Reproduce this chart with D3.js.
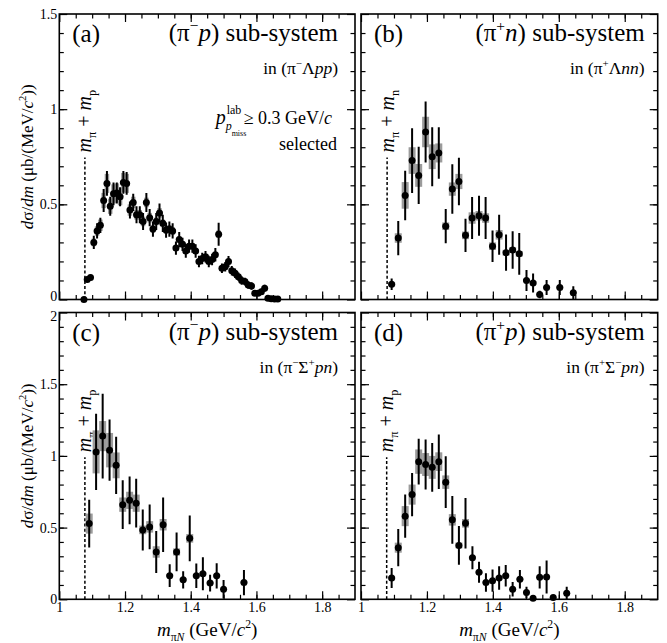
<!DOCTYPE html>
<html>
<head>
<meta charset="utf-8">
<script src="https://cdn.jsdelivr.net/npm/d3@7"></script>
<style>
  body { margin: 0; background: #fff; }
  text { font-family: "Liberation Serif", "DejaVu Serif", serif; fill: #000; }
</style>
</head>
<body>
<div id="chart"></div>
<script>
// ---- data ----
// (a) pi- p in (pi- Lambda p p), 10 MeV bins
var aX = [1.075,1.085,1.095,1.105,1.115,1.125,1.135,1.145,1.155,1.165,1.175,1.185,1.195,1.205,1.215,1.225,
          1.235,1.245,1.255,1.265,1.275,1.285,1.295,1.305,1.315,1.325,1.335,1.345,1.355,1.365,1.375,1.385,
          1.395,1.405,1.415,1.425,1.435,1.445,1.455,1.465,1.475,1.485,1.495,1.505,1.515,1.525,1.535,1.545,
          1.555,1.565,1.575,1.585,1.595,1.605,1.615,1.625,1.635,1.645,1.655,1.665];
var aY = [0.000,0.105,0.115,0.300,0.360,0.390,0.520,0.610,0.490,0.555,0.560,0.540,0.615,0.610,0.470,0.510,
          0.445,0.445,0.410,0.510,0.430,0.370,0.410,0.455,0.400,0.365,0.370,0.360,0.270,0.315,0.290,0.255,
          0.280,0.280,0.255,0.200,0.215,0.225,0.200,0.210,0.235,0.343,0.164,0.172,0.199,0.151,0.138,0.120,
          0.100,0.094,0.076,0.071,0.033,0.033,0.041,0.059,0.006,0.004,0.002,0.002];
var aStat = [0.004,0.015,0.015,0.035,0.040,0.040,0.060,0.065,0.050,0.060,0.055,0.050,0.060,0.060,0.045,0.045,
             0.045,0.045,0.045,0.050,0.045,0.040,0.045,0.050,0.045,0.040,0.040,0.040,0.035,0.040,0.035,0.035,
             0.035,0.035,0.035,0.030,0.030,0.030,0.030,0.030,0.035,0.060,0.025,0.025,0.030,0.025,0.025,0.022,
             0.022,0.020,0.020,0.020,0.015,0.015,0.015,0.018,0.006,0.004,0.003,0.003];
var aSys = [0.002,0.010,0.010,0.020,0.025,0.030,0.040,0.050,0.040,0.050,0.050,0.045,0.050,0.050,0.030,0.030,
            0.025,0.025,0.025,0.025,0.025,0.020,0.020,0.025,0.020,0.020,0.020,0.020,0.015,0.015,0.015,0.015,
            0.015,0.015,0.015,0.012,0.012,0.012,0.012,0.012,0.012,0.020,0.010,0.010,0.010,0.010,0.010,0.010,
            0.008,0.008,0.008,0.008,0.005,0.005,0.005,0.005,0.002,0.002,0.002,0.002];

// (b) pi+ n in (pi+ Lambda n n), 20 MeV bins
var bX = [1.093,1.113,1.134,1.155,1.175,1.196,1.216,1.236,1.257,1.277,1.297,1.317,1.337,
          1.358,1.378,1.399,1.419,1.440,1.460,1.480,1.502,1.522,1.542,1.563,1.603,1.644];
var bY = [0.080,0.323,0.547,0.730,0.652,0.880,0.750,0.770,0.385,0.580,0.620,0.337,0.428,
          0.440,0.428,0.280,0.340,0.246,0.260,0.240,0.100,0.087,0.026,0.063,0.063,0.035];
var bStat = [0.030,0.090,0.130,0.170,0.150,0.160,0.155,0.135,0.090,0.130,0.125,0.087,0.110,
             0.105,0.110,0.083,0.105,0.095,0.098,0.110,0.055,0.050,0.020,0.040,0.040,0.035];
var bSys = [0.010,0.025,0.070,0.070,0.060,0.080,0.065,0.050,0.020,0.035,0.040,0.020,0.030,
            0.025,0.025,0.020,0.025,0.015,0.015,0.015,0.008,0.008,0.004,0.006,0.006,0.004];

// (c) pi- p in (pi- Sigma+ p n)
var cX = [1.091,1.112,1.132,1.153,1.173,1.193,1.214,1.234,1.254,1.275,1.295,1.316,1.336,
          1.357,1.377,1.397,1.417,1.437,1.459,1.479,1.500,1.562];
var cY = [0.528,1.028,1.138,1.040,0.934,0.660,0.690,0.670,0.484,0.505,0.330,0.520,0.165,
          0.330,0.136,0.425,0.164,0.178,0.113,0.164,0.070,0.117];
var cStat = [0.167,0.266,0.295,0.213,0.200,0.170,0.167,0.170,0.143,0.156,0.147,0.190,0.080,
             0.135,0.060,0.160,0.085,0.115,0.058,0.088,0.065,0.088];
var cSys = [0.070,0.150,0.105,0.120,0.090,0.050,0.060,0.060,0.030,0.040,0.040,0.040,0.010,
            0.025,0.010,0.030,0.010,0.010,0.008,0.010,0.005,0.008];

// (d) pi+ p in (pi+ Sigma- p n)
var dX = [1.093,1.113,1.134,1.155,1.175,1.196,1.216,1.236,1.257,1.277,1.297,1.317,1.338,
          1.358,1.379,1.399,1.419,1.439,1.460,1.482,1.502,1.522,1.542,1.563,1.583,1.624];
var dY = [0.148,0.360,0.580,0.730,0.960,0.940,0.920,0.960,0.817,0.554,0.376,0.530,0.290,
          0.188,0.117,0.130,0.148,0.164,0.070,0.140,0.047,0.007,0.153,0.155,0.012,0.042];
var dStat = [0.070,0.130,0.150,0.150,0.160,0.175,0.170,0.190,0.180,0.167,0.135,0.176,0.080,
             0.073,0.065,0.078,0.082,0.075,0.050,0.065,0.040,0.010,0.077,0.115,0.012,0.045];
var dSys = [0.010,0.035,0.070,0.070,0.085,0.080,0.080,0.065,0.047,0.040,0.020,0.030,0.010,
            0.010,0.008,0.008,0.010,0.010,0.005,0.008,0.004,0.002,0.008,0.008,0.002,0.004];

// thresholds m_pi + m_N (GeV/c^2)
var thrP = 1.0779, thrN = 1.0792;

var xTicks = [1, 1.2, 1.4, 1.6, 1.8];
var xTickLabels = ['1', '1.2', '1.4', '1.6', '1.8'];
var yTicksTop = [0, 0.5, 1, 1.5];
var yTickLabelsTop = ['0', '0.5', '1', '1.5'];
var yTicksBot = [0, 0.5, 1, 1.5, 2];
var yTickLabelsBot = ['0', '0.5', '1', '1.5', '2'];

// ---- layout ----
var W = 667, H = 643;
var colX = [[59.3, 355], [361, 657.7]];
var rowY = [[14, 299.5], [312.5, 599.3]];
var yMax = [1.5, 2];

var svg = d3.select('#chart').append('svg')
    .attr('width', W)
    .attr('height', H);

// text with italic / sub / sup pieces
function rich(t, parts, size) {
    var shift = 0;
    parts.forEach(function(p) {
        var s = p[0], k = p[1] || '';
        var ts = t.append('tspan').text(s);
        var target = 0, fs = size;
        if (k.indexOf('sup') >= 0) { target = -0.4 * size; fs = size * 0.62; }
        if (k.indexOf('sub') >= 0) { target = 0.25 * size; fs = size * 0.62; }
        if (k.charAt(0) == 'i') ts.attr('font-style', 'italic');
        ts.attr('font-size', fs).attr('dy', target - shift);
        shift = target;
    });
    return t;
}

var panels = [
    {name: '(a)', col: 0, row: 0, x: aX, y: aY, stat: aStat, sys: aSys, boxW: 4.5, thr: thrP, nuc: 'p',
     title: [['(π'], ['−', 'sup'], ['p', 'i'], [') sub-system']],
     sub: [['in (π'], ['−', 'sup'], ['Λ'], ['pp', 'i'], [')']]},
    {name: '(b)', col: 1, row: 0, x: bX, y: bY, stat: bStat, sys: bSys, boxW: 7, thr: thrN, nuc: 'n',
     title: [['(π'], ['+', 'sup'], ['n', 'i'], [') sub-system']],
     sub: [['in (π'], ['+', 'sup'], ['Λ'], ['nn', 'i'], [')']]},
    {name: '(c)', col: 0, row: 1, x: cX, y: cY, stat: cStat, sys: cSys, boxW: 7, thr: thrP, nuc: 'p',
     title: [['(π'], ['−', 'sup'], ['p', 'i'], [') sub-system']],
     sub: [['in (π'], ['−', 'sup'], ['Σ'], ['+', 'sup'], ['pn', 'i'], [')']]},
    {name: '(d)', col: 1, row: 1, x: dX, y: dY, stat: dStat, sys: dSys, boxW: 7, thr: thrP, nuc: 'p',
     title: [['(π'], ['+', 'sup'], ['p', 'i'], [') sub-system']],
     sub: [['in (π'], ['+', 'sup'], ['Σ'], ['−', 'sup'], ['pn', 'i'], [')']]}
];

panels.forEach(function(p, pi) {
    var x0 = colX[p.col][0], x1 = colX[p.col][1];
    var y0 = rowY[p.row][1], y1 = rowY[p.row][0];
    var x = d3.scaleLinear().domain([1, 1.9]).range([x0, x1]);
    var y = d3.scaleLinear().domain([0, yMax[p.row]]).range([y0, y1]);
    var g = svg.append('g');

    var clipId = 'clip' + pi;
    svg.append('clipPath').attr('id', clipId)
        .append('rect').attr('x', x0).attr('y', y1).attr('width', x1 - x0).attr('height', y0 - y1);

    var xMinor = d3.range(1.05, 1.9, 0.05);
    var yMinor = d3.range(0.1, yMax[p.row], 0.1);
    var yMaj = p.row == 0 ? yTicksTop : yTicksBot;
    var yLab = p.row == 0 ? yTickLabelsTop : yTickLabelsBot;

    function style(ax) {
        ax.select('.domain').remove();
        ax.selectAll('line').attr('stroke', '#000').attr('stroke-width', 1.2);
        ax.selectAll('text').attr('font-size', 14).attr('font-family', '"Liberation Serif", serif');
    }

    // bottom
    g.append('g').attr('transform', 'translate(0,' + y0 + ')')
        .call(d3.axisBottom(x).tickValues(xTicks).tickSize(-8).tickPadding(3)
            .tickFormat(function(d, i) { return p.row == 1 ? xTickLabels[i] : ''; }))
        .call(style);
    g.append('g').attr('transform', 'translate(0,' + y0 + ')')
        .call(d3.axisBottom(x).tickValues(xMinor).tickSize(-4.5).tickFormat('')).call(style);
    // top
    g.append('g').attr('transform', 'translate(0,' + y1 + ')')
        .call(d3.axisTop(x).tickValues(xTicks).tickSize(-8).tickFormat('')).call(style);
    g.append('g').attr('transform', 'translate(0,' + y1 + ')')
        .call(d3.axisTop(x).tickValues(xMinor).tickSize(-4.5).tickFormat('')).call(style);
    // left
    var la = g.append('g').attr('transform', 'translate(' + x0 + ',0)')
        .call(d3.axisLeft(y).tickValues(yMaj).tickSize(-8).tickPadding(2)
            .tickFormat(function(d, i) { return p.col == 0 ? yLab[i] : ''; }))
        .call(style);
    // the 0 of the top row and the 2 of the bottom row sit apart, as in the figure
    la.selectAll('.tick text').attr('dy', function(d) {
        if (p.row == 0 && d == 0) return '0.1em';
        if (p.row == 1 && d == 2) return '0.55em';
        return '0.32em';
    });
    g.append('g').attr('transform', 'translate(' + x0 + ',0)')
        .call(d3.axisLeft(y).tickValues(yMinor).tickSize(-4.5).tickFormat('')).call(style);
    // right
    g.append('g').attr('transform', 'translate(' + x1 + ',0)')
        .call(d3.axisRight(y).tickValues(yMaj).tickSize(-8).tickFormat('')).call(style);
    g.append('g').attr('transform', 'translate(' + x1 + ',0)')
        .call(d3.axisRight(y).tickValues(yMinor).tickSize(-4.5).tickFormat('')).call(style);

    // threshold dashed line
    var dashTop = y0 - 142;
    g.append('line')
        .attr('x1', x(p.thr)).attr('x2', x(p.thr))
        .attr('y1', y0).attr('y2', dashTop)
        .attr('stroke', '#000').attr('stroke-width', 1.5)
        .attr('stroke-dasharray', '3,2.2');
    var tl = g.append('text')
        .attr('transform', 'translate(' + (x(p.thr) + 6.5) + ',' + (dashTop - 5) + ') rotate(-90)')
        .attr('font-size', 20);
    rich(tl, [['m', 'i'], ['π', 'sub'], [' + '], ['m', 'i'], [p.nuc, 'sub']], 20);

    // data
    var pts = p.x.map(function(d, i) { return {x: d, y: p.y[i], e: p.stat[i], s: p.sys[i]}; });
    var dg = g.append('g').attr('clip-path', 'url(#' + clipId + ')');
    dg.selectAll('rect.sys').data(pts).enter().append('rect')
        .attr('x', function(d) { return x(d.x) - p.boxW / 2; })
        .attr('width', p.boxW)
        .attr('y', function(d) { return y(d.y + d.s); })
        .attr('height', function(d) { return y(d.y - d.s) - y(d.y + d.s); })
        .attr('fill', '#9b9b9b');
    dg.selectAll('line.err').data(pts).enter().append('line')
        .attr('x1', function(d) { return x(d.x); })
        .attr('x2', function(d) { return x(d.x); })
        .attr('y1', function(d) { return y(d.y + d.e); })
        .attr('y2', function(d) { return y(d.y - d.e); })
        .attr('stroke', '#000').attr('stroke-width', 2);
    g.selectAll('circle.pt').data(pts).enter().append('circle')
        .attr('cx', function(d) { return x(d.x); })
        .attr('cy', function(d) { return y(d.y); })
        .attr('r', 3.5)
        .attr('fill', '#000');

    // frame
    g.append('rect')
        .attr('x', x0).attr('y', y1)
        .attr('width', x1 - x0).attr('height', y0 - y1)
        .attr('fill', 'none').attr('stroke', '#000').attr('stroke-width', 1.6);

    // labels
    var rOff = p.col == 0 ? 17 : 13;
    g.append('text').attr('x', x0 + 13).attr('y', y1 + 28).attr('font-size', 25).text(p.name);
    rich(g.append('text').attr('x', x1 - rOff).attr('y', y1 + 27).attr('font-size', 25)
        .attr('text-anchor', 'end'), p.title, 25);
    rich(g.append('text').attr('x', x1 - rOff).attr('y', y1 + 60).attr('font-size', 17.5)
        .attr('text-anchor', 'end'), p.sub, 17.5);

    if (p.name == '(a)') {
        var cut = g.append('text').attr('x', x1 - 23).attr('y', y1 + 110)
            .attr('font-size', 18).attr('text-anchor', 'end');
        rich(cut, [['≥ 0.3 GeV/'], ['c', 'i']], 18);
        var w = cut.node().getComputedTextLength();
        var px = x1 - 23 - w - 28;
        g.append('text').attr('x', px).attr('y', y1 + 110).attr('font-size', 20)
            .attr('font-style', 'italic').text('p');
        g.append('text').attr('x', px + 11).attr('y', y1 + 100).attr('font-size', 12).text('lab');
        g.append('text').attr('x', px + 10).attr('y', y1 + 116).attr('font-size', 12)
            .attr('font-style', 'italic').text('p');
        g.append('text').attr('x', px + 16).attr('y', y1 + 122).attr('font-size', 8).text('miss');
        g.append('text').attr('x', x1 - 18).attr('y', y1 + 136).attr('font-size', 18)
            .attr('text-anchor', 'end').text('selected');
    }
});

// axis titles
rowY.forEach(function(r) {
    var t = svg.append('text')
        .attr('transform', 'translate(33,' + ((r[0] + r[1]) / 2) + ') rotate(-90)')
        .attr('text-anchor', 'middle').attr('font-size', 17);
    rich(t, [['d', 'i'], ['σ/'], ['dm', 'i'], [' (μb/(MeV/'], ['c', 'i'], ['2', 'sup'], ['))']], 17);
});
colX.forEach(function(c) {
    var t = svg.append('text')
        .attr('x', (c[0] + c[1]) / 2).attr('y', 636)
        .attr('text-anchor', 'middle').attr('font-size', 19);
    rich(t, [['m', 'i'], ['π', 'sub'], ['N', 'isub'], [' (GeV/'], ['c', 'i'], ['2', 'sup'], [')']], 19);
});
</script>
</body>
</html>
